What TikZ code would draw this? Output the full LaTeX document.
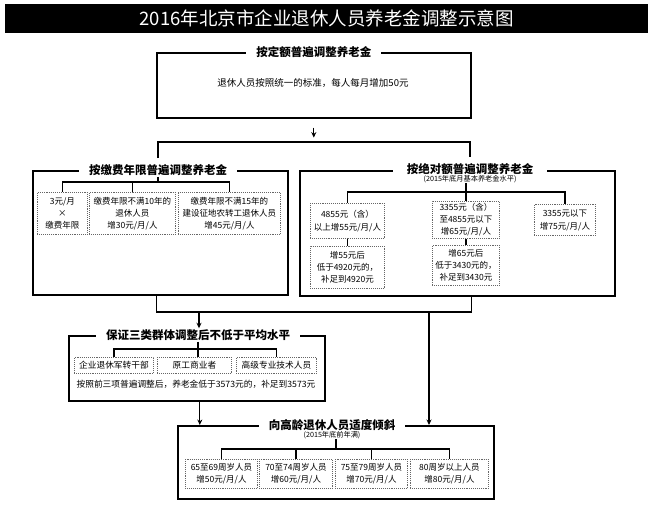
\documentclass[tikz,border=0pt]{standalone}
\usepackage{fontspec}
\setmainfont{Noto Sans CJK SC}
\usetikzlibrary{arrows.meta}
\begin{document}
\begin{tikzpicture}[x=1pt,y=-1pt,
  frame/.style={draw, line width=1.6pt, anchor=north west, inner sep=0pt},
  dbox/.style={draw=black!60, densely dotted, line width=0.9pt, anchor=north west, inner sep=1pt, align=center, font=\fontsize{8.5}{12}\selectfont},
  ttl/.style={fill=white, inner xsep=10pt, inner ysep=1pt, font=\bfseries\fontsize{11.5}{13}\selectfont},
  subt/.style={inner sep=0.5pt, font=\fontsize{7.2}{8}\selectfont},
  conn/.style={line width=1.2pt},
  arr/.style={conn, -{Stealth[length=5.5pt,width=5pt]}}]
\useasboundingbox (0,0) rectangle (652,512);
% title bar
\node[fill=black, anchor=north west, minimum width=643pt, minimum height=29pt, inner sep=0pt] (bar) at (5,4) {};
\node[text=white, font=\fontsize{18.5}{20}\selectfont] (maintitle) at (bar.center) {2016年北京市企业退休人员养老金调整示意图};
% top box
\node[frame, minimum width=314pt, minimum height=65pt] (topbox) at (156,52) {};
\node[ttl] (toptitle) at (topbox.north) {按定额普遍调整养老金};
\node[font=\fontsize{9.5}{11}\selectfont] (toptext) at (313,83) {退休人员按照统一的标准，每人每月增加50元};
\draw[arr] ([yshift=-9pt]topbox.south) -- ([yshift=-19pt]topbox.south);
% left frame
\node[frame, minimum width=255pt, minimum height=124pt] (lframe) at (32,170) {};
\node[ttl] (ltitle) at (158,170) {按缴费年限普遍调整养老金};
\node[dbox, minimum width=50pt, minimum height=42pt] (lb1) at (37,192) {3元/月\\×\\缴费年限};
\node[dbox, minimum width=86pt, minimum height=42pt] (lb2) at (89,192) {缴费年限不满10年的\\退休人员\\增30元/月/人};
\node[dbox, minimum width=102pt, minimum height=42pt] (lb3) at (178,192) {缴费年限不满15年的\\建设征地农转工退休人员\\增45元/月/人};
\coordinate (lj) at (158,182);
\draw[conn] (ltitle.south) -- (lj);
\draw[conn] (lb1.north) |- (lj) -| (lb3.north);
\draw[conn] (lb2.north) -- (lb2.north |- lj);
% right frame
\node[frame, minimum width=315pt, minimum height=125pt] (rframe) at (299,170) {};
\node[ttl, inner xsep=14pt] (rtitle) at (470,169) {按绝对额普遍调整养老金};
\node[subt] (rsub) at (470,179) {(2015年底月基本养老金水平)};
\node[dbox, minimum width=74pt, minimum height=35pt, font=\fontsize{8.5}{13}\selectfont] (rb1) at (310,203) {4855元（含）\\以上增55元/月/人};
\node[dbox, minimum width=74pt, minimum height=42pt] (rb1b) at (310,246) {增55元后\\低于4920元的，\\补足到4920元};
\node[dbox, minimum width=67pt, minimum height=37pt] (rb2) at (432,201) {3355元（含）\\至4855元以下\\增65元/月/人};
\node[dbox, minimum width=67pt, minimum height=40pt] (rb2b) at (432,245) {增65元后\\低于3430元的，\\补足到3430元};
\node[dbox, minimum width=61pt, minimum height=31pt, font=\fontsize{8.5}{13}\selectfont] (rb3) at (534,204) {3355元以下\\增75元/月/人};
\coordinate (rj) at (465.5,192);
\draw[conn] (rsub.south -| rb2.north) -- (rb2.north);
\draw[conn] (rb1.north) |- (rj) -| (rb3.north);
\draw[conn] (rb1.south) -- (rb1b.north);
\draw[conn] (rb2.south) -- (rb2b.north);
% top junction
\coordinate (tj) at (313,142);
\draw[conn] ([yshift=5pt]ltitle.north) |- (tj) -| ([yshift=5pt]rtitle.north);
% guarantee frame
\node[frame, minimum width=256pt, minimum height=65pt] (gframe) at (68,335) {};
\node[ttl] (gtitle) at (198,335) {保证三类群体调整后不低于平均水平};
\node[dbox, minimum width=79pt, minimum height=16pt, font=\fontsize{8.7}{10}\selectfont] (gb1) at (74,357) {企业退休军转干部};
\node[dbox, minimum width=74pt, minimum height=16pt, font=\fontsize{8.7}{10}\selectfont] (gb2) at (157,357) {原工商业者};
\node[dbox, minimum width=80pt, minimum height=16pt, font=\fontsize{8.7}{10}\selectfont] (gb3) at (236,357) {高级专业技术人员};
\coordinate (gj) at (198,349);
\draw[conn] (gtitle.south) -- (gtitle.south |- gb2.north);
\draw[conn] (gb1.north) |- (gj) -| (gb3.north);
\node[font=\fontsize{8.7}{10}\selectfont] (gtext) at (196,384) {按照前三项普遍调整后，养老金低于3573元的，补足到3573元};
% old-age frame
\node[frame, minimum width=316pt, minimum height=73pt] (oframe) at (177,425) {};
\node[ttl] (otitle) at (332,425) {向高龄退休人员适度倾斜};
\node[subt] (osub) at (332,435) {(2015年底前年满)};
\node[dbox, minimum width=72pt, minimum height=29pt] (ob1) at (185,459) {65至69周岁人员\\增50元/月/人};
\node[dbox, minimum width=73pt, minimum height=29pt] (ob2) at (259,459) {70至74周岁人员\\增60元/月/人};
\node[dbox, minimum width=72pt, minimum height=29pt] (ob3) at (335,459) {75至79周岁人员\\增70元/月/人};
\node[dbox, minimum width=78pt, minimum height=29pt] (ob4) at (410,459) {80周岁以上人员\\增80元/月/人};
\coordinate (oj) at (336,449);
\draw[conn] (osub.south -| oj) -- (oj);
\draw[conn] (ob1.north) |- (oj) -| (ob4.north);
\draw[conn] (ob2.north) -- (ob2.north |- oj);
\draw[conn] (ob3.north) -- (ob3.north |- oj);
% flow between frames
\coordinate (fj1) at (199,312);
\coordinate (fj2) at (429,312);
\draw[conn] ([xshift=-3.5pt]lframe.south) |- (fj1) -- (fj2) -| ([xshift=14.5pt]rframe.south);
\draw[arr] (fj1) -- (fj1 |- gtitle.north);
\draw[arr] (fj2) -- (fj2 |- oframe.north);
\draw[arr] ([xshift=3pt]gframe.south) -- ([xshift=3pt]gframe.south |- oframe.north);
\end{tikzpicture}
\end{document}
